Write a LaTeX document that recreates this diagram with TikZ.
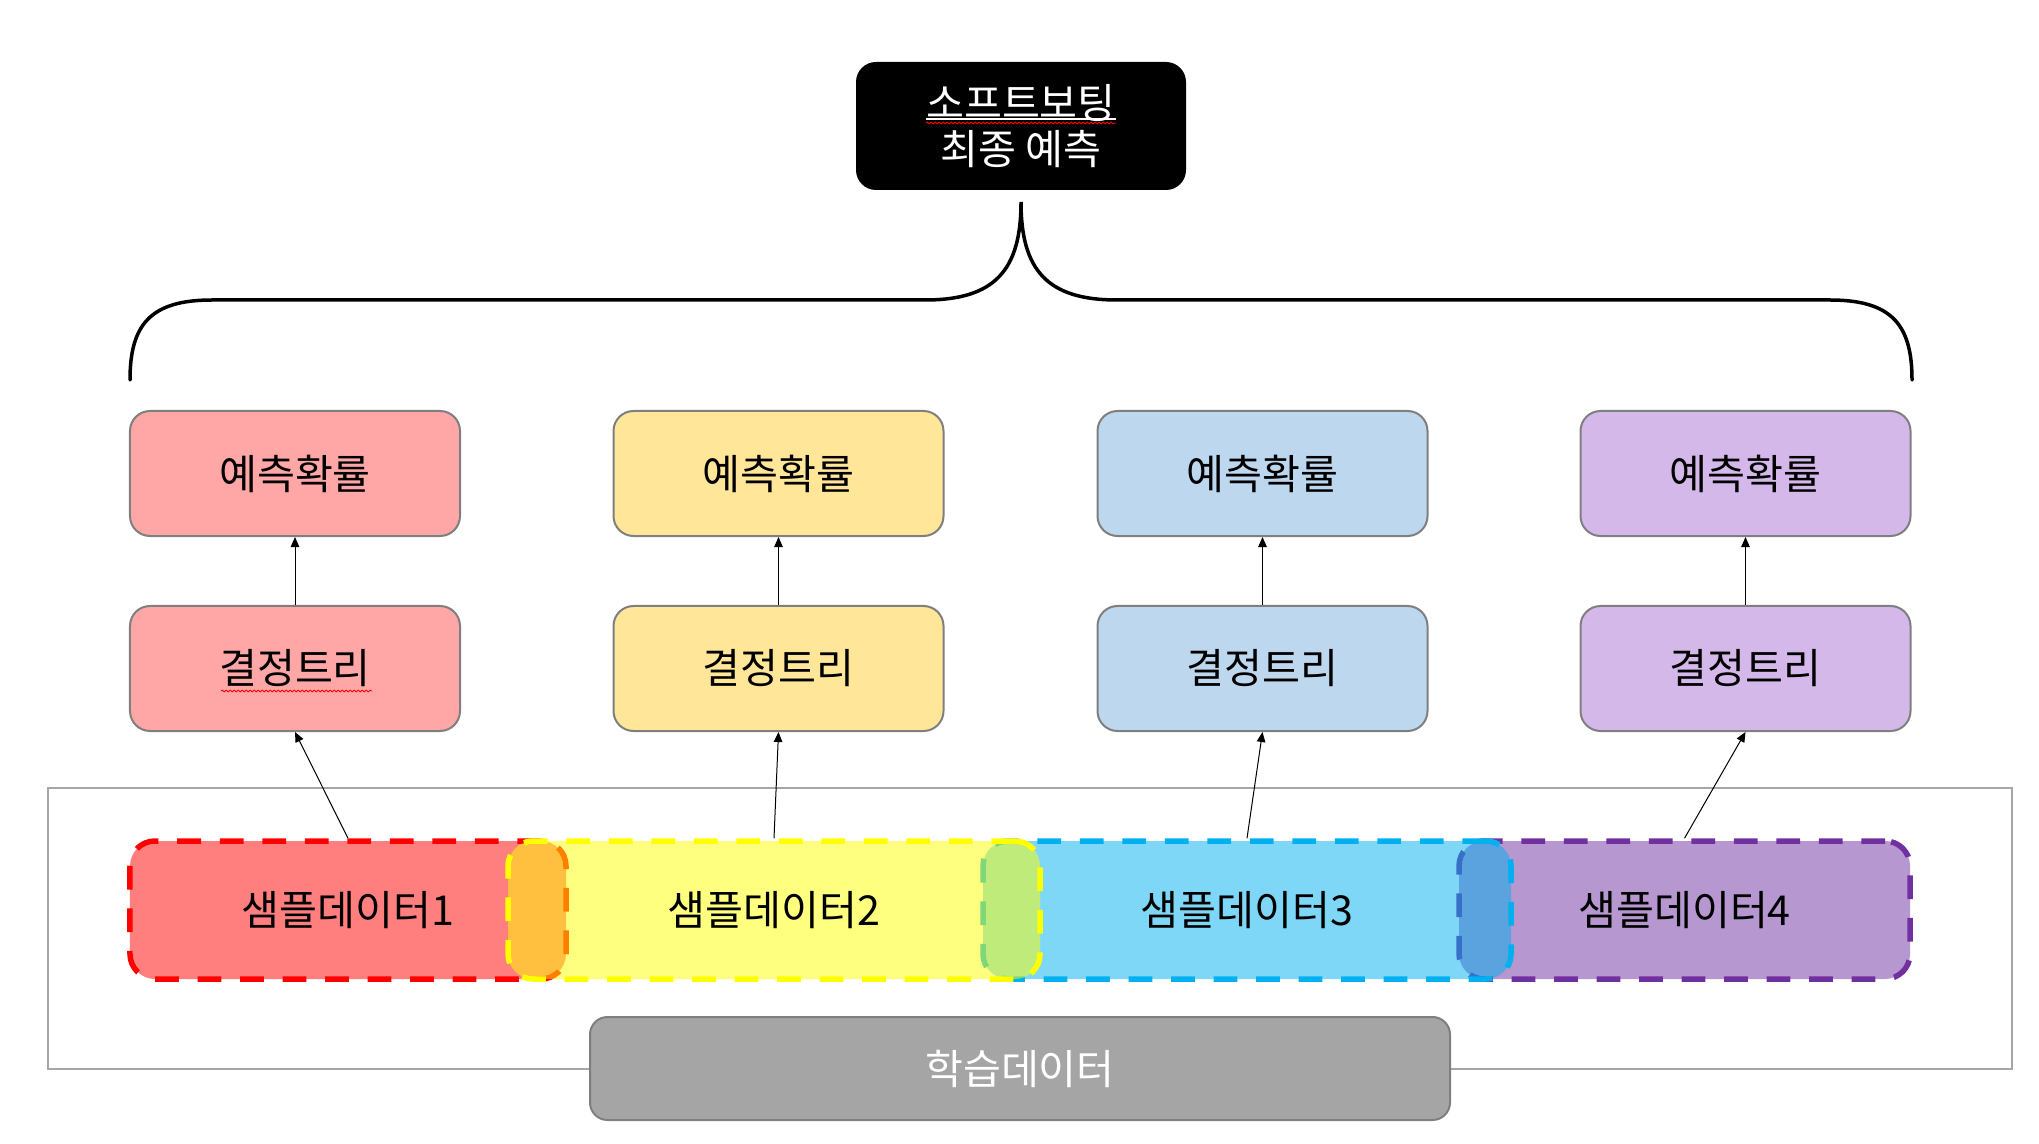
\documentclass[tikz,border=0pt]{standalone}
\usepackage{fontspec}
\setmainfont{Noto Sans CJK KR}
\usetikzlibrary{arrows.meta,decorations.pathmorphing}
\definecolor{boxgray}{HTML}{7F7F7F}
\definecolor{outgray}{HTML}{A6A6A6}
\definecolor{lgray}{HTML}{A5A5A5}
\definecolor{pRed}{HTML}{FFA6A6}
\definecolor{pYel}{HTML}{FFE699}
\definecolor{pBlu}{HTML}{BDD7EE}
\definecolor{pPur}{HTML}{D5B8EA}
\definecolor{sRed}{HTML}{FF0000}
\definecolor{sYel}{HTML}{FFFF00}
\definecolor{sBlu}{HTML}{00B0F0}
\definecolor{sPur}{HTML}{7030A0}
\begin{document}
\begin{tikzpicture}[x=0.4pt,y=-0.4pt,
  txt/.style={font=\fontsize{16.5pt}{18.2pt}\selectfont},
  box/.style={txt,draw=boxgray,line width=0.8pt,rounded corners=8pt,minimum width=132pt,minimum height=50pt,inner sep=0pt},
  samp/.style={txt,line width=2.2pt,dash pattern=on 9.5pt off 7.5pt,rounded corners=10pt,fill opacity=0.5,draw opacity=1,text opacity=1,minimum height=55.2pt,inner sep=0pt},
  arr/.style={line width=0.4pt,-{Triangle[length=4pt,width=3.4pt]}},
  brace/.style={line width=1.4pt,line cap=round},
  squig/.style={draw=red,line width=0.35pt,decorate,decoration={snake,amplitude=0.35pt,segment length=1.6pt}}
]
\useasboundingbox (0,0) rectangle (2039,1144);

% top box
\node[txt,fill=black,text=white,rounded corners=8pt,minimum width=132pt,minimum height=51.2pt,align=center,inner sep=0pt] (top) at (1021,126) {소프트보팅\\최종 예측};
\draw[white,line width=0.5pt] (926,119) -- (1116,119);
\draw[squig] (926,123) -- (1116,123);

% brace
\coordinate (bL) at (130,380);
\coordinate (bR) at (1912,380);
\coordinate (bT) at (1021,202);
\draw[brace] (bL) .. controls (130,325) and (150,300) .. (212,300) -- (925,300) .. controls (995,300) and (1021,270) .. (bT) .. controls (1021,270) and (1047,300) .. (1117,300) -- (1830,300) .. controls (1892,300) and (1912,325) .. (bR);

% probability boxes
\node[box,fill=pRed] (p1) at (295,473.5) {예측확률};
\node[box,fill=pYel] (p2) at (778.5,473.5) {예측확률};
\node[box,fill=pBlu] (p3) at (1262.5,473.5) {예측확률};
\node[box,fill=pPur] (p4) at (1745.5,473.5) {예측확률};

% tree boxes
\node[box,fill=pRed] (t1) at (295,668.5) {결정트리};
\node[box,fill=pYel] (t2) at (778.5,668.5) {결정트리};
\node[box,fill=pBlu] (t3) at (1262.5,668.5) {결정트리};
\node[box,fill=pPur] (t4) at (1745.5,668.5) {결정트리};
\draw[squig] (221,691) -- (372,691);

% outer frame
\draw[outgray,line width=0.7pt] (48,788) rectangle (2012,1069);

% sample boxes (drawing order matters for overlaps)
\node[samp,fill=sRed,draw=sRed,minimum width=174.4pt] (s1) at (348,910) {샘플데이터1};
\node[samp,fill=sPur,draw=sPur,minimum width=180.4pt] (s4) at (1684.5,910) {샘플데이터4};
\node[samp,fill=sBlu,draw=sBlu,minimum width=211.2pt] (s3) at (1247,910) {샘플데이터3};
\node[samp,fill=sYel,draw=sYel,minimum width=212.8pt] (s2) at (774,910) {샘플데이터2};

% learning data
\node[txt,fill=lgray,draw=boxgray,line width=0.8pt,rounded corners=7pt,text=white,minimum width=344pt,minimum height=41.2pt,inner sep=0pt] (ld) at (1020,1068.5) {학습데이터};

% arrows
\foreach \i in {1,2,3,4}{
  \draw[arr] (t\i.north) -- (p\i.south);
  \draw[arr] (s\i.north) -- (t\i.south);
}
\end{tikzpicture}
\end{document}
